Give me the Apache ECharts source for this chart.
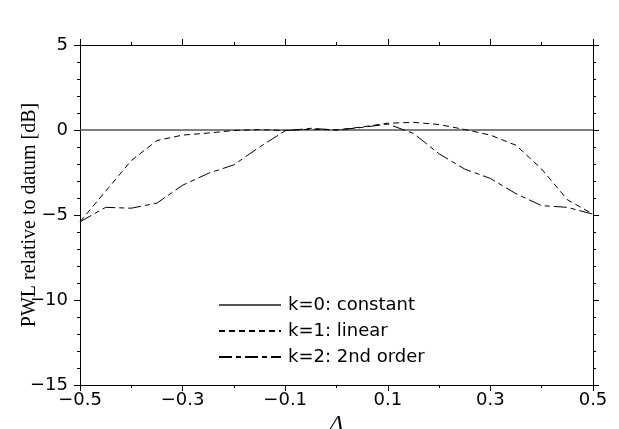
<!DOCTYPE html>
<html>
<head>
<meta charset="utf-8">
<script src="https://cdn.jsdelivr.net/npm/echarts@6/dist/echarts.min.js"></script>
<style>
html,body{margin:0;padding:0;background:#fff;}
#chart{width:619px;height:429px;}
</style>
</head>
<body>
<div id="chart"></div>
<script>
// Data
const xValues = [-0.5, -0.45, -0.4, -0.35, -0.3, -0.25, -0.2, -0.15, -0.1, -0.05, 0, 0.05, 0.1, 0.15, 0.2, 0.25, 0.3, 0.35, 0.4, 0.45, 0.5];
const constantK0 = [0, 0, 0, 0, 0, 0, 0, 0, 0, 0, 0, 0, 0, 0, 0, 0, 0, 0, 0, 0, 0];
const linearK1 = [-5.4, -3.6, -1.8, -0.62, -0.3, -0.18, -0.03, 0.02, -0.03, 0.05, 0.0, 0.18, 0.4, 0.45, 0.32, 0.03, -0.3, -0.9, -2.3, -4.1, -4.95];
const secondK2 = [-5.4, -4.55, -4.6, -4.3, -3.25, -2.55, -2.05, -1.0, -0.05, 0.1, 0.0, 0.15, 0.35, -0.2, -1.4, -2.3, -2.85, -3.75, -4.45, -4.55, -4.95];
const seriesNames = ['k=0: constant', 'k=1: linear', 'k=2: 2nd order'];
const xTickLabels = ['\u22120.5', '\u22120.3', '\u22120.1', '0.1', '0.3', '0.5'];

function pairs(ys) { return xValues.map((x, i) => [x, ys[i]]); }
function fmtX(v) {
  const r = Math.round(v * 10) / 10;
  const s = Math.abs(r).toFixed(1);
  const lbl = (r < 0 ? '\u2212' : '') + s;
  return xTickLabels.indexOf(lbl) >= 0 ? lbl : '';
}
function fmtY(v) { return (v < 0 ? '\u2212' : '') + Math.abs(v); }

const chart = echarts.init(document.getElementById('chart'), null, {renderer: 'canvas'});
const axisLine = {show: true, onZero: false, lineStyle: {color: '#000', width: 1}};
const tickMain = {show: true, inside: false, length: 6, lineStyle: {color: '#000', width: 1}};
const tickMinor = {show: true, length: 3, lineStyle: {color: '#000', width: 1}};
const labelFont = {color: '#000', fontFamily: 'DejaVu Sans', fontSize: 18};

chart.setOption({
  animation: false,
  backgroundColor: '#fff',
  grid: {left: 80, right: 26, top: 45, bottom: 44, containLabel: false, outerBoundsMode: 'none'},
  legend: {
    orient: 'vertical', left: 218, top: 296, padding: 0,
    itemWidth: 62, itemHeight: 14, itemGap: 8,
    itemStyle: {opacity: 0},
    textStyle: {color: '#000', fontFamily: 'DejaVu Sans', fontSize: 18, padding: [0, 0, 0, 2]},
    data: seriesNames
  },
  xAxis: [
    {type: 'value', position: 'bottom', min: -0.5, max: 0.5, interval: 0.2,
     axisLine: axisLine, axisTick: tickMain,
     minorTick: Object.assign({splitNumber: 2}, tickMinor),
     splitLine: {show: false},
     axisLabel: Object.assign({margin: 6, formatter: fmtX}, labelFont),
     name: '\u0394', nameLocation: 'middle', nameGap: 28, nameMoveOverlap: false,
     nameTextStyle: {color: '#000', fontFamily: 'Liberation Serif', fontStyle: 'italic', fontSize: 22}},
    {type: 'value', position: 'top', min: -0.5, max: 0.5, interval: 0.2,
     axisLine: axisLine, axisTick: tickMain,
     minorTick: Object.assign({splitNumber: 2}, tickMinor),
     splitLine: {show: false}, axisLabel: {show: false}}
  ],
  yAxis: [
    {type: 'value', position: 'left', min: -15, max: 5, interval: 5,
     axisLine: axisLine, axisTick: tickMain,
     minorTick: Object.assign({splitNumber: 5}, tickMinor),
     splitLine: {show: false},
     axisLabel: Object.assign({margin: 12, formatter: fmtY}, labelFont),
     name: 'PWL relative to datum [dB]', nameLocation: 'middle', nameGap: 40, nameMoveOverlap: false,
     nameTextStyle: {color: '#000', fontFamily: 'Liberation Serif', fontSize: 20}},
    {type: 'value', position: 'right', min: -15, max: 5, interval: 5,
     axisLine: axisLine, axisTick: tickMain,
     minorTick: Object.assign({splitNumber: 5}, tickMinor),
     splitLine: {show: false}, axisLabel: {show: false}}
  ],
  series: [
    {name: seriesNames[0], type: 'line', data: pairs(constantK0), symbol: 'none',
     lineStyle: {color: '#555', width: 1.3, type: 'solid'}, itemStyle: {color: '#555'}},
    {name: seriesNames[1], type: 'line', data: pairs(linearK1), symbol: 'none',
     lineStyle: {color: '#000', width: 1, type: [6, 4]}, itemStyle: {color: '#000'}},
    {name: seriesNames[2], type: 'line', data: pairs(secondK2), symbol: 'none',
     lineStyle: {color: '#000', width: 1, type: [13, 4, 5, 4]}, itemStyle: {color: '#000'}}
  ]
});
</script>
</body>
</html>
